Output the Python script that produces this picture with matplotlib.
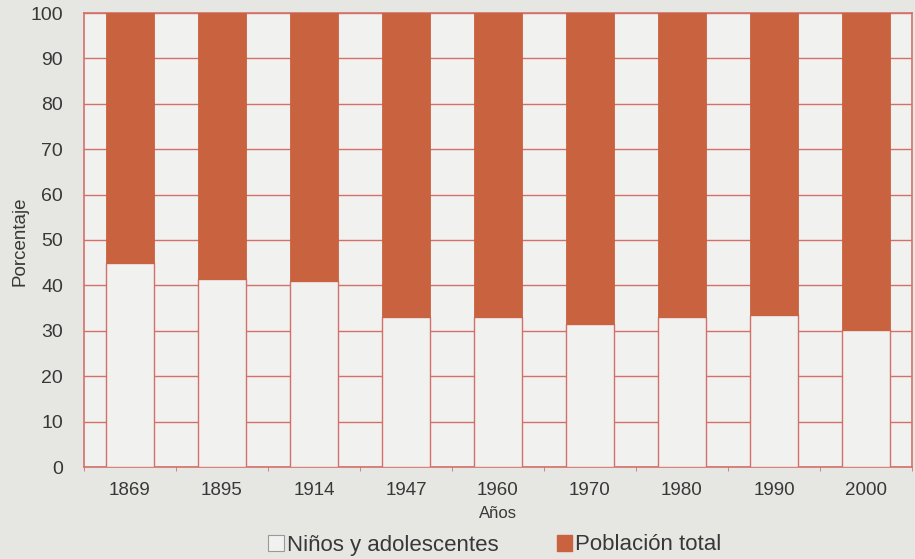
import numpy as np
import matplotlib.pyplot as plt
from matplotlib.patches import Patch

plt.rcParams['font.family'] = ['Liberation Sans', 'DejaVu Sans']

# data
years = ["1869", "1895", "1914", "1947", "1960", "1970", "1980", "1990", "2000"]
ninos = [45.0, 41.5, 41.0, 33.0, 33.0, 31.5, 33.0, 33.5, 30.2]
total = [100 - v for v in ninos]

red_line = '#d4706a'
bar_red = '#c9623f'
paper = '#e6e6e3'
panel = '#f1f1ef'
text_c = '#383838'

fig = plt.figure(figsize=(9.15, 5.59), dpi=100, facecolor=paper)
ax = fig.add_axes([84 / 915, 1 - 467 / 559, 828 / 915, 454 / 559], facecolor=panel)

x = np.arange(len(years))
ax.bar(x, ninos, width=0.53, color=panel, edgecolor=red_line, linewidth=1.0, zorder=3)
ax.bar(x, total, bottom=ninos, width=0.53, color=bar_red, edgecolor=bar_red,
       linewidth=0.6, zorder=3)

ax.set_xlim(-0.5, len(years) - 0.5)
ax.set_ylim(0, 100)
ax.set_yticks(range(0, 101, 10))
ax.set_xticks(x)
ax.set_xticklabels(years)
ax.set_xticks(np.arange(-0.5, len(years), 1), minor=True)
ax.tick_params(axis='x', which='major', length=0, pad=11, labelsize=13.5, labelcolor=text_c)
ax.tick_params(axis='x', which='minor', length=3, color=red_line)
ax.tick_params(axis='y', length=0, pad=15, labelsize=14, labelcolor=text_c)

ax.grid(True, axis='y', color=red_line, linewidth=1.0, zorder=0)
for s in ax.spines.values():
    s.set_color(red_line)
    s.set_linewidth(1.2)

ax.set_xlabel("Años", fontsize=12, color=text_c, labelpad=5)
fig.text(20 / 915, 1 - 241 / 559, "Porcentaje", rotation=90, ha='center', va='center',
         fontsize=13.5, color=text_c)

handles = [Patch(facecolor=panel, edgecolor='#999999', linewidth=0.8),
           Patch(facecolor=bar_red, edgecolor=bar_red)]
labels = ["Niños y adolescentes", "Población total"]
leg = fig.legend(handles, labels, loc='center', bbox_to_anchor=(495 / 915, 1 - 545 / 559),
                 ncol=2, frameon=False, fontsize=16, handlelength=0.7, handleheight=0.7,
                 handletextpad=0.15, columnspacing=2.6)
for t in leg.get_texts():
    t.set_color(text_c)

fig.savefig("out.png", dpi=100, facecolor=paper)
